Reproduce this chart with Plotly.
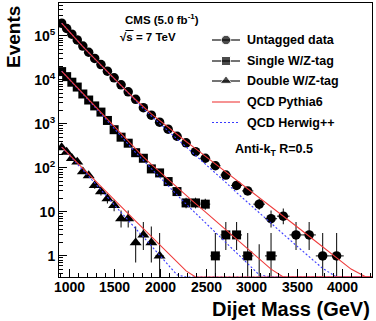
import math
import numpy as np
import plotly.graph_objects as go

# ---------------- data ----------------
bin_edges = [890, 944, 1000, 1058, 1118, 1181, 1246, 1313, 1383, 1455, 1530, 1607, 1687,
             1770, 1856, 1945, 2037, 2132, 2231, 2332, 2438, 2546, 2659, 2775, 2895, 3019,
             3147, 3279, 3416, 3558, 3704, 3854, 4010, 4171, 4337, 4509]

untagged_counts = [195000, 148000, 110000, 81300, 58900, 42700, 30900, 22400, 15850, 11200,
                   7760, 5370, 3630, 2340, 1580, 1100, 760, 525, 372, 234, 166, 112, 69, 40,
                   30, 15, 7, 8, 3, 3, 1, 1]
single_counts = [15500, 11900, 8900, 6900, 4800, 3500, 2570, 1860, 1200, 740, 500, 365, 222,
                 166, 95, 77, 49, 29, 16, 16, 15, 1, 3, 3, 1, 0, 1]
double_counts = [290, 230, 165, 137, 82, 67, 40, 29, 20, 14, 7, 7, 2, 3, 2, 1]

pythia_untagged = [195000, 144500, 107200, 79430, 57540, 41690, 30200, 21380, 15140, 10720,
                   7413, 5129, 3548, 2455, 1698, 1202, 832, 575, 398, 275, 186, 126, 83.2,
                   53.7, 33.9, 21.4, 13.2, 8.04, 4.79, 2.79, 1.60, 0.912, 0.501, 0.272, 0.141]
herwig_untagged = [195000, 144500, 107200, 79430, 57540, 41690, 30200, 21380, 14960, 10470,
                   7161, 4898, 3311, 2239, 1514, 1047, 692, 457, 302, 195, 123, 77.6, 46.8,
                   27.5, 16.2, 9.55, 5.50, 3.13, 1.74, 0.944, 0.519, 0.275, 0.141, 0.0716, 0.0347]
pythia_single = [15850, 12020, 9120, 6761, 4898, 3548, 2570, 1820, 1259, 851, 575, 389, 263,
                 178, 120, 81.3, 53.7, 35.5, 23.4, 15.5, 10.0, 6.31, 3.98, 2.45, 1.48, 0.871,
                 0.501, 0.282, 0.155, 0.0832, 0.0437, 0.0224, 0.0112, 0.0056, 0.0025]
herwig_single = [15850, 12020, 9016, 6607, 4786, 3428, 2455, 1718, 1175, 776, 513, 339, 224,
                 148, 95.5, 61.7, 38.9, 24.5, 15.1, 9.33, 5.62, 3.31, 2.0, 1.15, 0.661, 0.372,
                 0.204, 0.110, 0.0562, 0.0282, 0.0141, 0.00708, 0.00355, 0.00178, 0.00089]
pythia_double = [302, 229, 174, 132, 97.7, 72.4, 52.5, 38.0, 26.9, 19.1, 13.2, 9.12, 6.17,
                 4.17, 2.75, 1.82, 1.17, 0.741, 0.457, 0.282, 0.170, 0.100, 0.058, 0.033,
                 0.018, 0.010, 0.0055, 0.003, 0.0016, 0.0009, 0.0005, 0.0003, 0.00015,
                 0.00008, 0.00004]
herwig_double = [302, 224, 166, 123, 89.1, 64.6, 45.2, 31.6, 21.6, 14.8, 9.77, 6.46, 4.17,
                 2.69, 1.68, 1.05, 0.631, 0.372, 0.214, 0.123, 0.0708, 0.0398, 0.022, 0.012,
                 0.0066, 0.0036, 0.002, 0.0011, 0.0006, 0.0003, 0.00017, 0.00009, 0.00005,
                 0.00003, 0.00001]

x_tick_vals = [1000, 1500, 2000, 2500, 3000, 3500, 4000]
x_tick_text = ["1000", "1500", "2000", "2500", "3000", "3500", "4000"]
y_tick_vals = [1, 10, 100, 1000, 10000, 100000]
y_tick_text = ["1", "10", "10<sup>2</sup>", "10<sup>3</sup>", "10<sup>4</sup>", "10<sup>5</sup>"]

legend_labels = ["Untagged data", "Single W/Z-tag", "Double W/Z-tag", "QCD Pythia6", "QCD Herwig++"]

# ---------------- helpers ----------------
X_RANGE = [888, 4320]
Y_LOG_RANGE = [-0.48, 5.75]
Y_FLOOR = 10 ** Y_LOG_RANGE[0]

W, H = 376, 321
ML, MR, MT, MB = 59, 4, 3, 44
PW, PH = W - ML - MR, H - MT - MB


def px(x):
    return (x - ML) / PW


def py(y):
    return (H - MB - y) / PH


edges = np.array(bin_edges, dtype=float)
centers = 0.5 * (edges[:-1] + edges[1:])
halfw = 0.5 * (edges[1:] - edges[:-1])


def pois_cdf(k, lam):
    term = math.exp(-lam)
    s = term
    for i in range(1, k + 1):
        term *= lam / i
        s += term
    return s


def garwood(n):
    a = 0.158655
    if n > 60:
        return n - math.sqrt(n), n + math.sqrt(n)
    lo, hi = float(n), n + 10 * math.sqrt(n + 1) + 10
    for _ in range(80):
        mid = 0.5 * (lo + hi)
        if pois_cdf(n, mid) > a:
            lo = mid
        else:
            hi = mid
    up = lo
    if n == 0:
        return 0.0, up
    lo, hi = 0.0, float(n)
    for _ in range(80):
        mid = 0.5 * (lo + hi)
        if 1 - pois_cdf(n - 1, mid) < a:
            lo = mid
        else:
            hi = mid
    return lo, up


fig = go.Figure()

ERR_COLOR = "#1a1a1a"


def add_data(counts, symbol, size):
    n = len(counts)
    xs, ys, ep, em, hw = [], [], [], [], []
    zx, zy = [], []
    for i in range(n):
        c = counts[i]
        lo, up = garwood(c)
        if c > 0:
            xs.append(centers[i]); ys.append(c)
            ep.append(up - c); em.append(c - lo); hw.append(halfw[i])
        else:
            zx += [centers[i], centers[i], None]
            zy += [Y_FLOOR, up, None]
    fig.add_trace(go.Scatter(
        x=xs, y=ys, mode="markers", showlegend=False,
        marker=dict(symbol=symbol, size=size, color="black", line=dict(width=0)),
        error_y=dict(type="data", symmetric=False, array=ep, arrayminus=em,
                     color=ERR_COLOR, thickness=1.1, width=0),
        error_x=dict(type="data", array=hw, color=ERR_COLOR, thickness=1.1, width=0),
        cliponaxis=True))
    if zx:
        fig.add_trace(go.Scatter(x=zx, y=zy, mode="lines", showlegend=False,
                                 line=dict(color=ERR_COLOR, width=1.1)))


MSIZE = {"circle": 9.5, "square": 9, "triangle-up": 10.5}
add_data(untagged_counts, "circle", MSIZE["circle"])
add_data(single_counts, "square", MSIZE["square"])
add_data(double_counts, "triangle-up", MSIZE["triangle-up"])

RED = "#ee3b3b"
BLUE = "#3a3aff"


def add_curve(vals, color, dash):
    y = np.maximum(np.array(vals, dtype=float), Y_FLOOR)
    fig.add_trace(go.Scatter(x=centers[:len(vals)], y=y, mode="lines", showlegend=False,
                             line=dict(color=color, width=1.1, dash=dash)))


for v in (herwig_untagged, herwig_single, herwig_double):
    add_curve(v, BLUE, "2px,2px")
for v in (pythia_untagged, pythia_single, pythia_double):
    add_curve(v, RED, "solid")

# ---------------- legend (pixel overlay axes) ----------------
leg_y = [40, 61, 81, 102, 122.5]
leg_sym = ["circle", "square", "triangle-up"]
for i in range(3):
    fig.add_trace(go.Scatter(
        x=[212, 226, 240], y=[leg_y[i]] * 3, xaxis="x2", yaxis="y2", mode="lines+markers",
        showlegend=False, line=dict(color="black", width=1.1),
        marker=dict(symbol=leg_sym[i], size=[0, MSIZE[leg_sym[i]], 0], color="black")))
fig.add_trace(go.Scatter(x=[212, 240], y=[leg_y[3]] * 2, xaxis="x2", yaxis="y2", mode="lines",
                         showlegend=False, line=dict(color=RED, width=1.1)))
fig.add_trace(go.Scatter(x=[212, 240], y=[leg_y[4]] * 2, xaxis="x2", yaxis="y2", mode="lines",
                         showlegend=False, line=dict(color=BLUE, width=1.1, dash="2px,2px")))

FONT = "Liberation Sans"


def text_ann(x, y, text, size, xanchor="left", yanchor="middle", angle=0):
    return dict(x=px(x), y=py(y), xref="paper", yref="paper", text=text, showarrow=False,
                xanchor=xanchor, yanchor=yanchor, textangle=angle,
                font=dict(family=FONT, size=size, color="black", weight="bold"))


ann = []
for i, lab in enumerate(legend_labels):
    ann.append(text_ann(245, leg_y[i], lab, 12.5))
ann.append(text_ann(123, 19, "CMS (5.0 fb<sup>-1</sup>)", 11.5))
ann.append(text_ann(118, 37, "√s = 7 TeV", 11.5))
ann.append(text_ann(233, 150, "Anti-k<sub>T</sub> R=0.5", 12.5))
ann.append(text_ann(14, 37, "Events", 19, xanchor="center", angle=-90))
ann.append(text_ann(372, 309, "Dijet Mass (GeV)", 20, xanchor="right"))
# x tick labels placed on the data axis
for v, t in zip(x_tick_vals, x_tick_text):
    ann.append(dict(x=v, y=py(287), xref="x", yref="paper", text=t, showarrow=False,
                    xanchor="center", yanchor="middle",
                    font=dict(family=FONT, size=14, color="black", weight="bold")))

shapes = [dict(type="line", xref="paper", yref="paper", x0=px(125.5), x1=px(133.5),
               y0=py(30.5), y1=py(30.5), line=dict(color="black", width=1))]

minor_y = [m * 10 ** e for e in range(-1, 6) for m in range(2, 10)]
minor_y = [v for v in minor_y if 10 ** Y_LOG_RANGE[0] < v < 10 ** Y_LOG_RANGE[1]]
minor_x = [v for v in range(900, 4400, 100) if v % 500 != 0]

fig.update_layout(
    width=W, height=H,
    margin=dict(l=ML, r=MR, t=MT, b=MB),
    paper_bgcolor="white", plot_bgcolor="white",
    showlegend=False,
    annotations=ann,
    shapes=shapes,
    xaxis=dict(range=X_RANGE, tickvals=x_tick_vals, ticks="inside", ticklen=8,
               tickcolor="black", tickwidth=1, showgrid=False, zeroline=False,
               showline=True, linecolor="black", linewidth=1, mirror=True,
               showticklabels=False,
               minor=dict(tickmode="array", tickvals=minor_x, ticks="inside", ticklen=4,
                          tickcolor="black", showgrid=False)),
    yaxis=dict(type="log", range=Y_LOG_RANGE, tickvals=y_tick_vals, ticktext=y_tick_text,
               ticks="inside", ticklen=8, tickcolor="black", tickwidth=1, showgrid=False,
               zeroline=False, showline=True, linecolor="black", linewidth=1, mirror=True,
               tickfont=dict(family=FONT, size=14, color="black", weight="bold"),
               minor=dict(tickmode="array", tickvals=minor_y, ticks="inside", ticklen=4,
                          tickcolor="black", showgrid=False)),
    xaxis2=dict(overlaying="x", range=[ML, W - MR], visible=False, fixedrange=True),
    yaxis2=dict(overlaying="y", range=[H - MB, MT], visible=False, fixedrange=True),
)

fig.write_html("out.html")
